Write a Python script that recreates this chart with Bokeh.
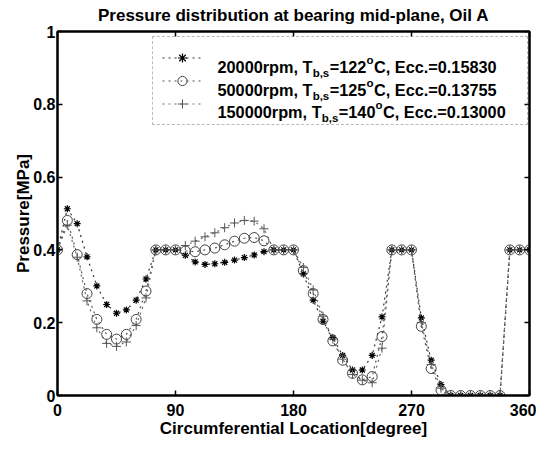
from bokeh.plotting import figure
from bokeh.models import (Range1d, LinearAxis, FixedTicker, Legend, LegendItem,
                          Label, ColumnDataSource)
from bokeh.embed import file_html
from bokeh.resources import INLINE

# ---------------- data ----------------
deg = [0, 7.5, 15, 22.5, 30, 37.5, 45, 52.5, 60, 67.5, 75, 82.5, 90,
       97.5, 105, 112.5, 120, 127.5, 135, 142.5, 150, 157.5, 165, 172.5, 180,
       187.5, 195, 202.5, 210, 217.5, 225, 232.5, 240, 247.5, 255, 262.5, 270,
       277.5, 285, 292.5, 300, 307.5, 315, 322.5, 330, 337.5, 345, 352.5, 360]

p_20000 = [0.400, 0.513, 0.472, 0.381, 0.301, 0.250, 0.226, 0.235, 0.262, 0.320, 0.400, 0.400, 0.400,
           0.385, 0.367, 0.360, 0.362, 0.366, 0.372, 0.379, 0.386, 0.395, 0.400, 0.400, 0.400,
           0.334, 0.262, 0.204, 0.159, 0.110, 0.070, 0.070, 0.110, 0.216, 0.400, 0.400, 0.400,
           0.213, 0.097, 0.030, 0.000, 0.000, 0.000, 0.000, 0.000, 0.000, 0.400, 0.400, 0.400]

p_50000 = [0.400, 0.481, 0.387, 0.280, 0.209, 0.168, 0.155, 0.168, 0.209, 0.287, 0.400, 0.400, 0.400,
           0.397, 0.395, 0.400, 0.405, 0.414, 0.424, 0.432, 0.434, 0.425, 0.400, 0.400, 0.400,
           0.343, 0.280, 0.209, 0.150, 0.097, 0.061, 0.043, 0.052, 0.162, 0.400, 0.400, 0.400,
           0.190, 0.074, 0.015, 0.000, 0.000, 0.000, 0.000, 0.000, 0.000, 0.400, 0.400, 0.400]

p_150000 = [0.400, 0.468, 0.380, 0.260, 0.186, 0.143, 0.135, 0.147, 0.192, 0.268, 0.400, 0.400, 0.400,
            0.412, 0.424, 0.436, 0.447, 0.461, 0.474, 0.481, 0.479, 0.458, 0.400, 0.400, 0.400,
            0.352, 0.290, 0.218, 0.155, 0.100, 0.058, 0.042, 0.035, 0.130, 0.400, 0.400, 0.400,
            0.200, 0.085, 0.020, 0.000, 0.000, 0.000, 0.000, 0.000, 0.000, 0.400, 0.400, 0.400]

x_ticks = [0, 90, 180, 270, 360]
y_ticks = [0, 0.2, 0.4, 0.6, 0.8, 1]
y_tick_labels = ["0", "0.2", "0.4", "0.6", "0.8", "1"]

# legend text pieces: (main, subscript, main, superscript, main)
legend_rows = [
    ["20000rpm, T", "b,s", "=122", "o", "C, Ecc.=0.15830"],
    ["50000rpm, T", "b,s", "=125", "o", "C, Ecc.=0.13755"],
    ["150000rpm, T", "b,s", "=140", "o", "C, Ecc.=0.13000"],
]

# ---------------- style / layout ----------------
FONT = "Liberation Sans"
W, H = 536, 440
FL, FR, FT, FB = 57, 529, 25, 398          # frame edges in canvas px

p = figure(width=W, height=H, x_range=Range1d(0, 360), y_range=Range1d(0, 1),
           output_backend="svg", toolbar_location=None,
           min_border_left=FL, min_border_right=W - FR,
           min_border_top=FT, min_border_bottom=H - FB,
           title="Pressure distribution at bearing mid-plane, Oil A")
p.title.align = "center"
p.title.vertical_align = "top"
p.title.offset = 9
p.title.text_font = FONT
p.title.text_font_size = "17px"
p.title.text_font_style = "bold"
p.title.text_color = "black"
p.xgrid.grid_line_color = None
p.ygrid.grid_line_color = None
p.outline_line_color = "black"
p.outline_line_width = 2
p.background_fill_color = "white"
p.border_fill_color = "white"

p.xaxis.ticker = FixedTicker(ticks=x_ticks)
p.yaxis.ticker = FixedTicker(ticks=y_ticks)
p.yaxis.major_label_overrides = {t: s for t, s in zip(y_ticks, y_tick_labels)}
p.xaxis.axis_label = "Circumferential Location[degree]"
p.yaxis.axis_label = "Pressure[MPa]"
for ax in (p.xaxis[0], p.yaxis[0]):
    ax.axis_line_width = 2
    ax.axis_line_color = "black"
    ax.major_tick_in = 5
    ax.major_tick_out = 0
    ax.major_tick_line_width = 1.5
    ax.minor_tick_line_color = None
    ax.major_label_text_font = FONT
    ax.major_label_text_font_size = "16px"
    ax.major_label_text_font_style = "bold"
    ax.major_label_text_color = "black"
    ax.axis_label_text_font = FONT
    ax.axis_label_text_font_size = "17px"
    ax.axis_label_text_font_style = "bold"
    ax.axis_label_text_color = "black"
p.xaxis.major_label_standoff = 8
p.xaxis.axis_label_standoff = 0
p.yaxis.major_label_standoff = 2
p.yaxis.axis_label_standoff = -3

for loc, ticks in (("above", x_ticks), ("right", y_ticks)):
    ax = LinearAxis(ticker=FixedTicker(ticks=ticks), major_tick_in=5, major_tick_out=0,
                    minor_tick_line_color=None, axis_line_width=2, major_tick_line_width=1.5,
                    major_label_text_font_size="1px", major_label_text_color=None,
                    major_label_standoff=0)
    p.add_layout(ax, loc)

src = ColumnDataSource(dict(deg=deg, a=p_20000, b=p_50000, c=p_150000))
l1 = p.line("deg", "a", source=src, line_color="#333333", line_dash="dotted", line_width=1.2)
l2 = p.line("deg", "b", source=src, line_color="#555555", line_dash="dotted", line_width=1.2)
l3 = p.line("deg", "c", source=src, line_color="#666666", line_dash="dotted", line_width=1.2)
s1 = p.scatter("deg", "a", source=src, marker="asterisk", size=7, line_color="black", line_width=1.2)
s2 = p.scatter("deg", "b", source=src, marker="circle", size=10, fill_color=None,
               line_color="#444444", line_width=1)
s3 = p.scatter("deg", "c", source=src, marker="cross", size=9, line_color="#555555", line_width=1)

# legend samples (glyphs); the texts are drawn as labels
LEG_L, LEG_T, ROW_H, PAD = 154 - 8, 40 - 8, 23, 9
LEG_DX = 6
legend = Legend(items=[LegendItem(label=" ", renderers=[l1, s1]),
                       LegendItem(label=" ", renderers=[l2, s2]),
                       LegendItem(label=" ", renderers=[l3, s3])],
                location=(LEG_L - FL + LEG_DX, (FB - FT) - (LEG_T - FT) - (3 * ROW_H + 2 * PAD) - 9),
                glyph_width=40, glyph_height=ROW_H, label_height=ROW_H, label_width=311,
                label_standoff=5, spacing=0, padding=PAD, margin=0,
                border_line_color="#777777", border_line_dash="dotted", border_line_width=1,
                background_fill_alpha=0.0,
                label_text_font_size="1px", label_text_color=None)
p.add_layout(legend)

# Arial-bold advance widths (per 1000 em)
AW = {**{d: 556 for d in "0123456789"}, "r": 389, "p": 611, "m": 889, ",": 278, " ": 278,
      "T": 611, "b": 611, "s": 556, "=": 584, "C": 722, "E": 667, "c": 556, ".": 278, "o": 611}


def tw(s, size):
    return sum(AW.get(ch, 556) for ch in s) * size / 1000.0


MAIN, SMALL = 16.3, 11.5
TEXT_PX = 218 - 8 + LEG_DX + 1
for i, pieces in enumerate(legend_rows):
    cy = LEG_T + 9 + PAD + ROW_H * (i + 0.5)
    xd = 360.0 * (TEXT_PX - FL) / (FR - FL)
    yd = (FB - cy) / (FB - FT)
    off = 0.0
    for j, piece in enumerate(pieces):
        size = MAIN if j in (0, 2, 4) else SMALL
        yoff = {1: -6, 3: 7}.get(j, 0)
        p.add_layout(Label(x=xd, y=yd, x_offset=off, y_offset=yoff, text=piece,
                           text_font=FONT, text_font_size=f"{size}px", text_font_style="bold",
                           text_baseline="middle", text_align="left", text_color="black",
                           level="overlay"))
        off += tw(piece, size) + (0.5 if j in (1, 3) else 0)

open("out.html", "w").write(file_html(p, INLINE))
